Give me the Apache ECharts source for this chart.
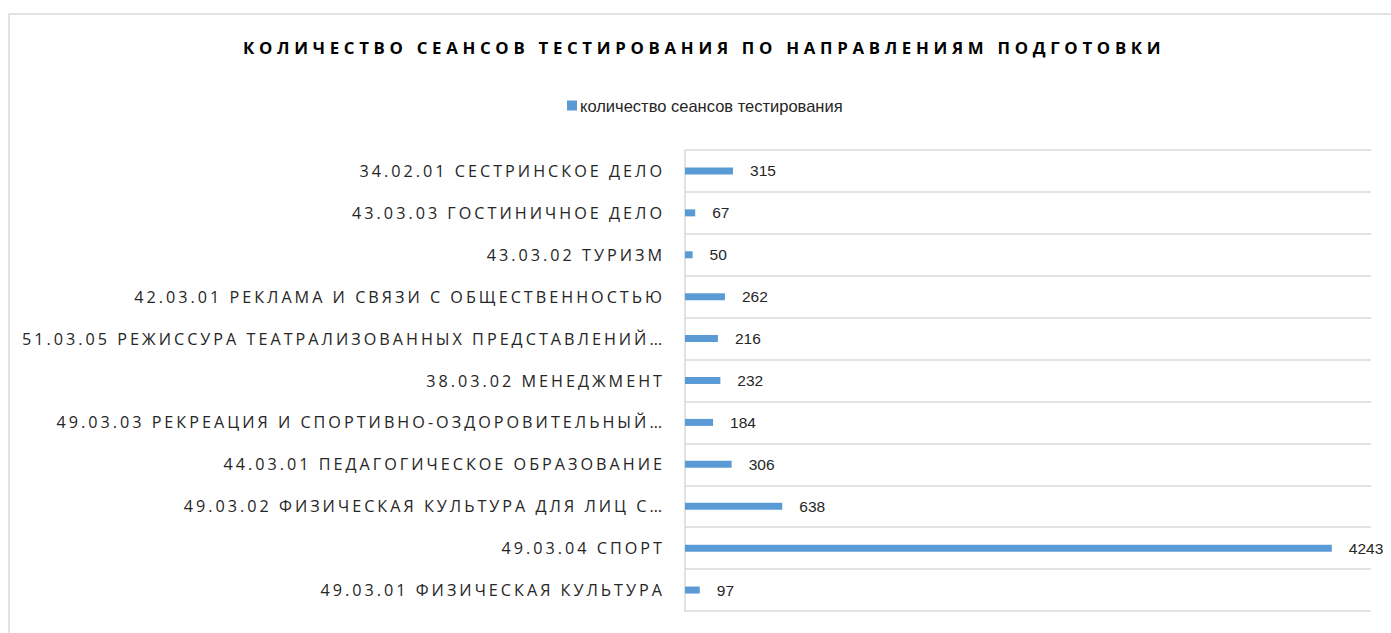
<!DOCTYPE html>
<html>
<head>
<meta charset="utf-8">
<script src="https://cdn.jsdelivr.net/npm/echarts@6/dist/echarts.min.js"></script>
<style>
  html, body { margin: 0; padding: 0; background: #fff; }
  #main { width: 1391px; height: 633px; }
  /* разрядка текста как в Excel: подписи категорий и заголовок */
  #main text[style*="Open Sans"] { letter-spacing: 3px; }
  #main text[style*="bold"] { letter-spacing: 4.7px; }
</style>
</head>
<body>
<div id="main"></div>
<script>
// направления подготовки (снизу вверх)
var categories = [
    '49.03.01 ФИЗИЧЕСКАЯ КУЛЬТУРА',
    '49.03.04 СПОРТ',
    '49.03.02 ФИЗИЧЕСКАЯ КУЛЬТУРА ДЛЯ ЛИЦ С…',
    '44.03.01 ПЕДАГОГИЧЕСКОЕ ОБРАЗОВАНИЕ',
    '49.03.03 РЕКРЕАЦИЯ И СПОРТИВНО-ОЗДОРОВИТЕЛЬНЫЙ…',
    '38.03.02 МЕНЕДЖМЕНТ',
    '51.03.05 РЕЖИССУРА ТЕАТРАЛИЗОВАННЫХ ПРЕДСТАВЛЕНИЙ…',
    '42.03.01 РЕКЛАМА И СВЯЗИ С ОБЩЕСТВЕННОСТЬЮ',
    '43.03.02 ТУРИЗМ',
    '43.03.03 ГОСТИНИЧНОЕ ДЕЛО',
    '34.02.01 СЕСТРИНСКОЕ ДЕЛО'
];
// количество сеансов тестирования
var sessions = [97, 4243, 638, 306, 184, 232, 216, 262, 50, 67, 315];

var seriesName = 'количество сеансов тестирования';
var titleText = 'КОЛИЧЕСТВО СЕАНСОВ ТЕСТИРОВАНИЯ ПО НАПРАВЛЕНИЯМ ПОДГОТОВКИ';

var myChart = echarts.init(document.getElementById('main'), null, {renderer: 'svg'});

myChart.setOption({
    animation: false,
    backgroundColor: '#fff',
    graphic: [{
        type: 'rect',
        silent: true,
        shape: {x: 9, y: 14, width: 1420, height: 700},
        style: {fill: 'none', stroke: '#d9d9d9', lineWidth: 1.5}
    }],
    title: {
        text: titleText,
        left: 243,
        top: 39,
        padding: 0,
        textStyle: {
            fontFamily: 'Open Sans',
            fontWeight: 'bold',
            fontSize: 16.8,
            color: '#000'
        }
    },
    legend: {
        data: [seriesName],
        top: 92,
        left: 562,
        itemWidth: 10,
        itemHeight: 10,
        icon: 'rect',
        textStyle: {fontFamily: 'Liberation Sans', fontSize: 16.5, color: '#262626', padding: [0, 0, 0, -2]}
    },
    grid: {
        left: 685,
        right: 20,
        top: 150,
        bottom: 22
    },
    xAxis: {
        type: 'value',
        min: 0,
        max: 4500,
        show: false
    },
    yAxis: {
        type: 'category',
        data: categories,
        axisLine: {show: true, lineStyle: {color: '#d9d9d9', width: 1.5}},
        axisTick: {show: false},
        splitLine: {show: true, lineStyle: {color: '#d9d9d9', width: 1.5}},
        axisLabel: {
            interval: 0,
            margin: 20,
            fontFamily: 'Open Sans',
            fontSize: 16.2,
            color: '#262626'
        }
    },
    series: [{
        name: seriesName,
        type: 'bar',
        data: sessions,
        barWidth: 7,
        itemStyle: {color: '#5b9bd5'},
        label: {
            show: true,
            position: 'right',
            distance: 17,
            fontFamily: 'Liberation Sans',
            fontSize: 15.5,
            color: '#262626'
        }
    }]
});
</script>
</body>
</html>
